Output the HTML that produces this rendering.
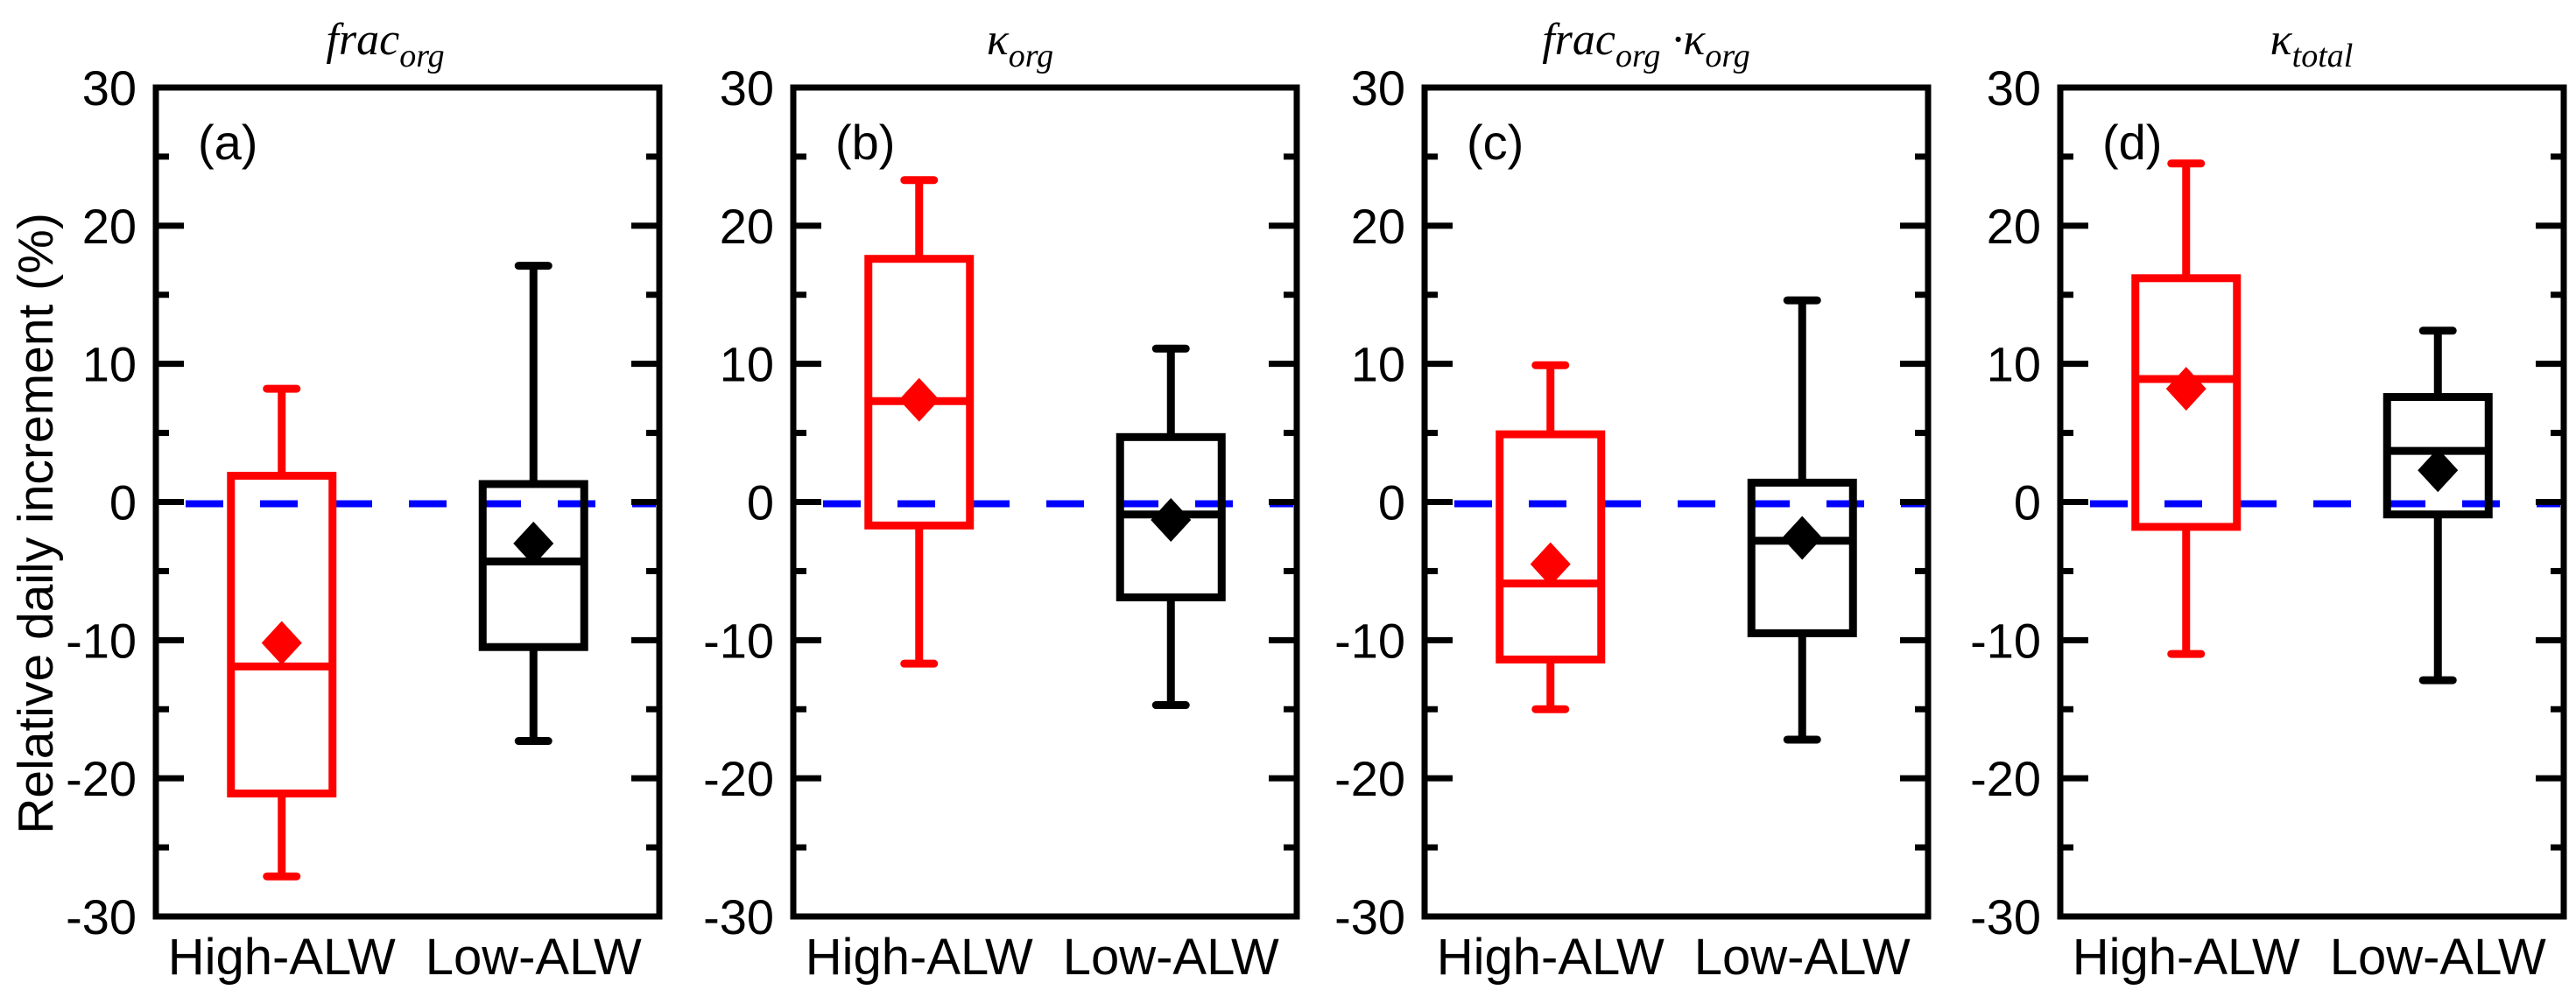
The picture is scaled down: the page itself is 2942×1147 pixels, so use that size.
<!DOCTYPE html>
<html><head><meta charset="utf-8"><style>
html,body{margin:0;padding:0;background:#fff;}
svg{display:block;}
text{font-family:"Liberation Sans",sans-serif;}
.t{font-family:"Liberation Serif","DejaVu Serif",serif;font-style:italic;}
</style></head><body>
<svg id="chart" width="2942" height="1147" viewBox="0 0 2942 1147" xmlns="http://www.w3.org/2000/svg">
<text x="0" y="0" transform="translate(60,598) rotate(-90)" text-anchor="middle" font-size="57">Relative daily increment (%)</text>
<text class="t" x="440" y="62" text-anchor="middle" font-size="52">frac<tspan font-size="38" dy="14">org</tspan></text>
<text class="t" x="1165" y="62" text-anchor="middle" font-size="52">κ<tspan font-size="38" dy="14">org</tspan></text>
<text class="t" x="1880" y="62" text-anchor="middle" font-size="52">frac<tspan font-size="38" dy="14">org</tspan><tspan dy="-14"> ·κ</tspan><tspan font-size="38" dy="14">org</tspan></text>
<text class="t" x="2640" y="62" text-anchor="middle" font-size="52">κ<tspan font-size="38" dy="14">total</tspan></text>
</svg>
<script>
const panelLabels = ["(a)","(b)","(c)","(d)"];
const categories = ["High-ALW","Low-ALW"];
const yTicks = [30,20,10,0,-10,-20,-30];
const minorTicks = [25,15,5,-5,-15,-25];
// per panel: [High, Low]
const whiskerTop = [[8.2,17.1],[23.3,11.1],[9.9,14.6],[24.5,12.4]];
const boxTop     = [[1.9,1.3],[17.6,4.7],[4.9,1.4],[16.2,7.6]];
const medians    = [[-11.9,-4.3],[7.3,-0.9],[-5.9,-2.8],[8.9,3.7]];
const boxBottom  = [[-21.1,-10.5],[-1.7,-6.9],[-11.4,-9.5],[-1.8,-0.9]];
const whiskerBot = [[-27.1,-17.3],[-11.7,-14.7],[-15.0,-17.2],[-11.0,-12.9]];
const means      = [[-10.2,-3.0],[7.4,-1.3],[-4.5,-2.6],[8.2,2.3]];
const refLine = 0;

const svg = document.getElementById('chart');
const NS = 'http://www.w3.org/2000/svg';
const lefts = [178, 906, 1627, 2353];
const PW = 575, TOP = 100, BOT = 1047;
function y(v){ return TOP + (30 - v) / 60 * (BOT - TOP); }
function mk(tag, attrs, parent){ const e = document.createElementNS(NS, tag); for (const k in attrs) e.setAttribute(k, attrs[k]); (parent||svg).appendChild(e); return e; }
const colors = ['#ff0000', '#000000'];

lefts.forEach((L, p) => {
  const g = mk('g', {});
  
  
  const R = L + PW;
  const x = f => L + f * PW;
  // dashed zero line
  const dl = mk('line', {x1: L + 34, x2: R - 4, y1: y(refLine) + 2, y2: y(refLine) + 2, stroke: '#0000ff', 'stroke-width': 8, 'stroke-dasharray': '43 42'}, g);
  
  
  // ticks
  yTicks.forEach(v => {
    mk('line', {x1: L, x2: L + 32, y1: y(v), y2: y(v), stroke: '#000', 'stroke-width': 7}, g);
    mk('line', {x1: R - 32, x2: R, y1: y(v), y2: y(v), stroke: '#000', 'stroke-width': 7}, g);
    const t = mk('text', {x: L - 22, y: y(v) + 20, 'text-anchor': 'end', 'font-size': 56}, g);
    t.textContent = v;
    
    
  });
  minorTicks.forEach(v => {
    mk('line', {x1: L, x2: L + 15, y1: y(v), y2: y(v), stroke: '#000', 'stroke-width': 7}, g);
    mk('line', {x1: R - 15, x2: R, y1: y(v), y2: y(v), stroke: '#000', 'stroke-width': 7}, g);
  });
  // boxes
  categories.forEach((c, i) => {
    const cx = x(i === 0 ? 0.25 : 0.75), bw = 116, col = colors[i];
    const bg = mk('g', {}, g);
    
    
    mk('line', {x1: cx, x2: cx, y1: y(whiskerTop[p][i]), y2: y(boxTop[p][i]), stroke: col, 'stroke-width': 9}, bg);
    mk('line', {x1: cx, x2: cx, y1: y(boxBottom[p][i]), y2: y(whiskerBot[p][i]), stroke: col, 'stroke-width': 9}, bg);
    mk('line', {x1: cx - 17, x2: cx + 17, y1: y(whiskerTop[p][i]), y2: y(whiskerTop[p][i]), stroke: col, 'stroke-width': 9, 'stroke-linecap': 'round'}, bg);
    mk('line', {x1: cx - 17, x2: cx + 17, y1: y(whiskerBot[p][i]), y2: y(whiskerBot[p][i]), stroke: col, 'stroke-width': 9, 'stroke-linecap': 'round'}, bg);
    mk('rect', {x: cx - bw/2, y: y(boxTop[p][i]), width: bw, height: y(boxBottom[p][i]) - y(boxTop[p][i]), fill: 'none', stroke: col, 'stroke-width': 9}, bg);
    mk('line', {x1: cx - bw/2, x2: cx + bw/2, y1: y(medians[p][i]), y2: y(medians[p][i]), stroke: col, 'stroke-width': 9}, bg);
    const my = y(means[p][i]);
    const d = mk('polygon', {points: `${cx},${my-25} ${cx+23},${my} ${cx},${my+25} ${cx-23},${my}`, fill: col}, bg);
    
    
    const t = mk('text', {x: cx, y: 1113, 'text-anchor': 'middle', 'font-size': 58}, g);
    t.textContent = c;
    
    
  });
  // frame
  const fr = mk('rect', {x: L, y: TOP, width: PW, height: BOT - TOP, fill: 'none', stroke: '#000', 'stroke-width': 7}, g);
  
  
  const pl = mk('text', {x: L + 48, y: 182, 'font-size': 56}, g);
  pl.textContent = panelLabels[p];
  
  
});
</script>
</body></html>
